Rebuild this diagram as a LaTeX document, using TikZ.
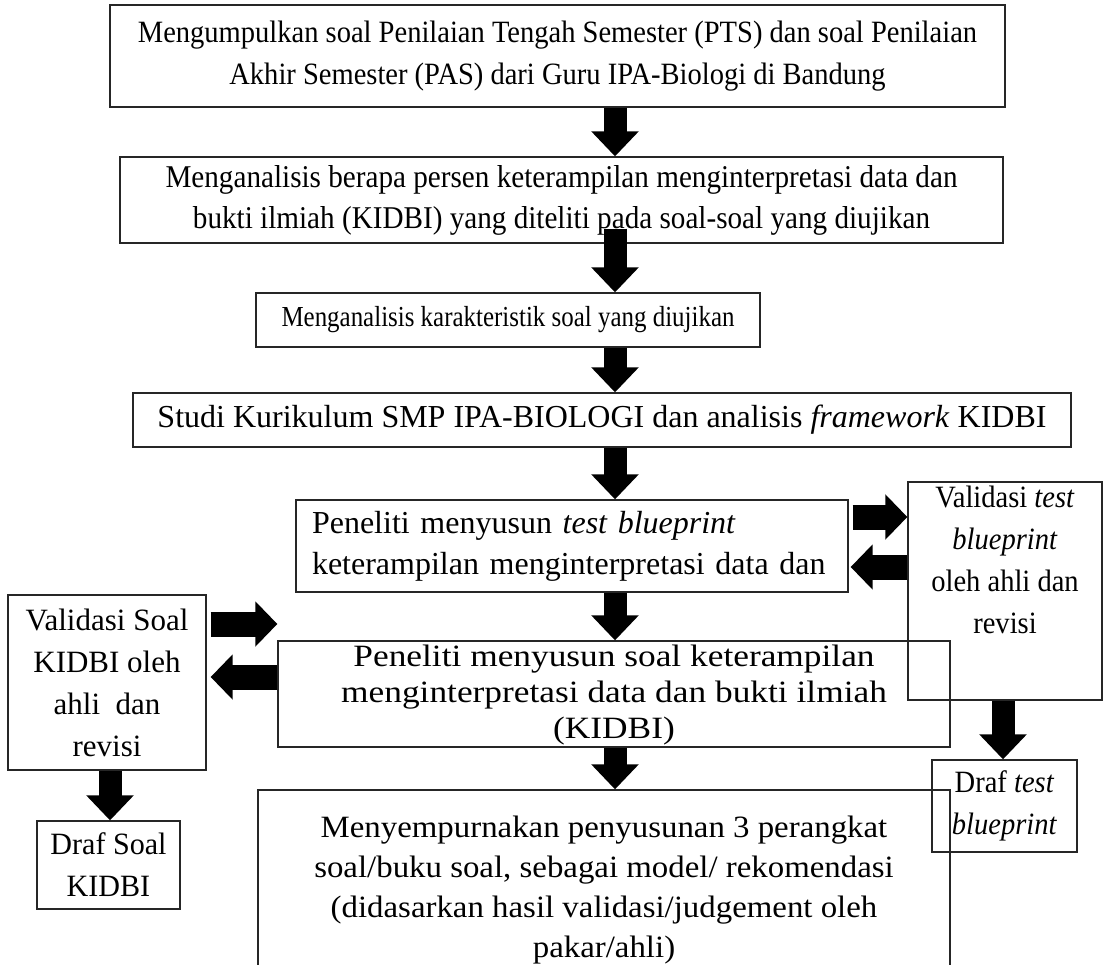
\documentclass[tikz,border=0pt]{standalone}
\usepackage{fontspec}
\setmainfont{Liberation Serif}[FakeStretch=0.92]
\newfontfamily\fsA{Liberation Serif}[FakeStretch=0.86]
\newfontfamily\fsB{Liberation Serif}[FakeStretch=1.0]
\newfontfamily\fsC{Liberation Serif}[FakeStretch=1.14]
\newfontfamily\fsD{Liberation Serif}[FakeStretch=1.06]
\newfontfamily\fsF{Liberation Serif}[FakeStretch=0.97]
\usetikzlibrary{arrows.meta,calc}
\tikzset{
  box/.style={draw=black!85, line width=1.3pt, inner sep=0pt, align=center,
    font=\fontsize{31}{42}\selectfont},
  txt/.style={inner sep=0pt, align=center},
  blk/.style={line width=23pt, -{Triangle[width=46pt,length=25pt]}},
  blkh/.style={line width=25pt, -{Triangle[width=44pt,length=22pt]}},
}
\begin{document}
\begin{tikzpicture}[x=1pt,y=-1pt]
\useasboundingbox (0,0) rectangle (1119,964);
\clip (0,0) rectangle (1119,964);
\fill[white] (0,0) rectangle (1119,964);

\node[box, minimum width=895pt, minimum height=102pt] (b1) at (557.5,56)
 {Mengumpulkan soal Penilaian Tengah Semester (PTS) dan soal Penilaian\\Akhir Semester (PAS) dari Guru IPA-Biologi di Bandung};
\node[box, font=\fontsize{31.7}{41}\selectfont, minimum width=883pt, minimum height=86pt] (b2) at (561.5,200)
 {Menganalisis berapa persen keterampilan menginterpretasi data dan\\bukti ilmiah (KIDBI) yang diteliti pada soal-soal yang diujikan};
\node[box, font=\fsA\fontsize{29}{42}\selectfont, minimum width=504pt, minimum height=54pt] (b3) at (508,320)
 {Menganalisis karakteristik soal yang diujikan};
\node[box, font=\fsB\fontsize{32}{42}\selectfont, minimum width=938pt, minimum height=54pt] (b4) at (602,420)
 {Studi Kurikulum SMP IPA-BIOLOGI dan analisis \textit{framework} KIDBI};
\node[box, font=\fsB\fontsize{32}{41}\selectfont, minimum width=552pt, minimum height=92pt, text width=520pt, align=left] (b5) at (572,546)
 {Peneliti menyusun \textit{test blueprint}\\keterampilan menginterpretasi data dan};
\node[box, minimum width=194pt, minimum height=218pt] (rb) at (1005,591)
 {Validasi \textit{test}\\\textit{blueprint}\\oleh ahli dan\\revisi\\[8pt]\strut};
\node[box, minimum width=672pt, minimum height=106pt] (b6) at (614,694) {};
\node[txt, font=\fsC\fontsize{31}{36}\selectfont] (b6t) at ($(b6.center)+(0,1)$)
 {Peneliti menyusun soal keterampilan\\menginterpretasi data dan bukti ilmiah\\(KIDBI)};
\node[box, font=\fsB\fontsize{31}{42}\selectfont, minimum width=198pt, minimum height=175pt] (lb) at (107,682.5)
 {Validasi Soal\\KIDBI oleh\\ahli~ dan\\revisi};
\node[box, font=\fsF\fontsize{31}{42}\selectfont, minimum width=143pt, minimum height=88pt] (dl) at (108.5,865)
 {Draf Soal\\KIDBI};
\node[box, minimum width=145pt, minimum height=92pt] (dr) at (1004.5,806)
 {Draf \textit{test}\\\textit{blueprint}};
\node[box, font=\fsD\fontsize{31}{40}\selectfont, minimum width=692pt, minimum height=200pt] (b7) at (604,890)
 {Menyempurnakan penyusunan 3 perangkat\\soal/buku soal, sebagai model/ rekomendasi\\(didasarkan hasil validasi/judgement oleh\\pakar/ahli)};

\coordinate (ax) at (615,0);
\coordinate (lx) at (110,0);
\coordinate (rx) at (1003,0);
\coordinate (yA) at (0,517);
\coordinate (yB) at (0,567);
\coordinate (yC) at (0,624);
\coordinate (yD) at (0,677);

\draw[blk] (b1.south -| ax) -- (b2.north -| ax);
\draw[blk] ($(b2.south -| ax)+(0,-15)$) -- (b3.north -| ax);
\draw[blk] (b3.south -| ax) -- (b4.north -| ax);
\draw[blk] (b4.south -| ax) -- (b5.north -| ax);
\draw[blk] (b5.south -| ax) -- (b6.north -| ax);
\draw[blk] (b6.south -| ax) -- (b7.north -| ax);
\draw[blk] (lb.south -| lx) -- (dl.north -| lx);
\draw[blk] (rb.south -| rx) -- (dr.north -| rx);

\draw[blkh] ($(b5.east |- yA)+(4,0)$) -- (rb.west |- yA);
\draw[blkh] (rb.west |- yB) -- ($(b5.east |- yB)+(2,0)$);
\draw[blkh] ($(lb.east |- yC)+(4,0)$) -- (b6.west |- yC);
\draw[blkh] (b6.west |- yD) -- ($(lb.east |- yD)+(4,0)$);
\end{tikzpicture}
\end{document}
